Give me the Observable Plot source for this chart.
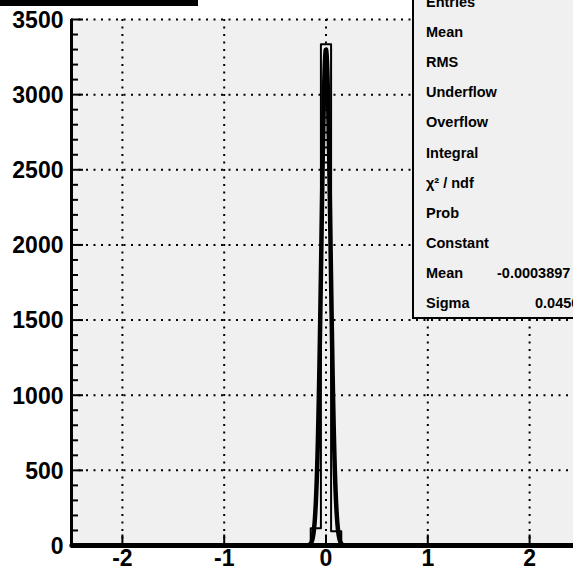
<!DOCTYPE html>
<html>
<head>
<meta charset="utf-8">
<script src="https://cdn.jsdelivr.net/npm/d3@7"></script>
<script src="https://cdn.jsdelivr.net/npm/@observablehq/plot@0.6"></script>
<style>
  html, body { margin: 0; padding: 0; background: white; overflow: hidden; }
  #chart { position: relative; width: 573px; height: 570px; overflow: hidden; }
</style>
</head>
<body>
<div id="chart"></div>
<script>
// ---- data ----
const xTicks = [-2, -1, 0, 1, 2];
const yTicks = [0, 500, 1000, 1500, 2000, 2500, 3000, 3500];
const yMinorStep = 100;
const histBinLow = [-0.25, -0.15, -0.05, 0.05, 0.15];
const histBinCount = [0, 115, 3335, 95, 0];
const histBinWidth = 0.1;
const xDomain = [-2.5, 2.5];
const yDomain = [0, 3500];
const fitConstant = 3300;
const fitMean = -0.0003897;
const fitSigma = 0.045;
const statLabels = ["Entries", "Mean", "RMS", "Underflow", "Overflow", "Integral", "χ² / ndf", "Prob", "Constant", "Mean", "Sigma"];
const statValues = ["", "", "", "", "", "", "", "", "", "-0.0003897 ± 0.00073", "0.04509 ± 0.0005"];

// ---- derived tables ----
const histLine = [{x: xDomain[0], y: 0}];
histBinLow.forEach((lo, i) => histLine.push({x: lo, y: histBinCount[i]}));
histLine.push({x: histBinLow[histBinLow.length - 1] + histBinWidth, y: 0});
histLine.push({x: xDomain[1], y: 0});

const fitLine = [];
for (let i = 0; i <= 600; i++) {
  const x = -0.3 + i * 0.001;
  fitLine.push({x, y: fitConstant * Math.exp(-0.5 * ((x - fitMean) / fitSigma) ** 2)});
}
const fitFull = [{x: xDomain[0], y: 0}, ...fitLine, {x: xDomain[1], y: 0}];

const yMinor = d3.range(yDomain[0], yDomain[1] + 1, yMinorStep);
const font = "Liberation Sans, Arial, Helvetica, sans-serif";
const tickLenMajor = 12 / 101.75;
const tickLenMinor = 7 / 101.75;

const plot = Plot.plot({
  width: 573,
  height: 570,
  marginLeft: 71,
  marginRight: 0,
  marginTop: 19,
  marginBottom: 25,
  style: {fontFamily: font, background: "white"},
  x: {domain: xDomain, range: [71, 580], axis: null},
  y: {domain: yDomain, range: [545, 19], axis: null},
  marks: [
    Plot.frame({fill: "#f0f0f0", stroke: null}),
    Plot.ruleX(xTicks, {x: d => d, stroke: "black", strokeWidth: 2, strokeDasharray: "2,5.5"}),
    Plot.ruleY(yTicks.slice(1), {y: d => d, stroke: "black", strokeWidth: 2, strokeDasharray: "2,5.5"}),
    Plot.line(histLine, {x: "x", y: "y", curve: "step-after", stroke: "black", strokeWidth: 2}),
    Plot.line(fitFull, {x: "x", y: "y", stroke: "black", strokeWidth: 4.5, strokeLinejoin: "round"}),
    Plot.ruleX([xDomain[0]], {x: d => d, stroke: "black", strokeWidth: 3}),
    Plot.ruleY([0], {y: d => d, stroke: "black", strokeWidth: 5}),
    Plot.ruleY(yMinor, {y: d => d, x1: xDomain[0], x2: d => xDomain[0] + (d % 500 === 0 ? tickLenMajor : tickLenMinor), stroke: "black", strokeWidth: 2}),
    Plot.ruleX(xTicks, {x: d => d, y1: 0, y2: 70, stroke: "black", strokeWidth: 2}),
    Plot.text(yTicks, {x: xDomain[0], y: d => d, text: d => String(d), textAnchor: "end", dx: -8, dy: 1, fontSize: 23, fontWeight: "bold", fill: "black"}),
    Plot.text(xTicks, {x: d => d, y: 0, text: d => String(d), textAnchor: "middle", lineAnchor: "middle", dy: 13, fontSize: 23, fontWeight: "bold", fill: "black"})
  ]
});

document.getElementById("chart").appendChild(plot);

// ---- annotation panes (title pave remnant and stats box) ----
const svg = d3.select(plot);
svg.append("rect").attr("x", 0).attr("y", -2).attr("width", 198).attr("height", 8).attr("fill", "black");

const g = svg.append("g").attr("text-anchor", "start");
g.append("rect").attr("x", 413).attr("y", -20).attr("width", 200).attr("height", 338)
  .attr("fill", "#f0f0f0").attr("stroke", "black").attr("stroke-width", 2);
statLabels.forEach((lab, i) => {
  const yy = 2 + i * 30.1;
  g.append("text").attr("x", 426).attr("y", yy).attr("dy", "0.35em")
    .attr("text-anchor", "start")
    .attr("font-family", font).attr("font-weight", "bold").attr("font-size", 14.5)
    .attr("fill", "black").text(lab);
  if (statValues[i]) {
    g.append("text").attr("x", i === 9 ? 497 : 535).attr("y", yy).attr("dy", "0.35em")
      .attr("text-anchor", "start")
      .attr("font-family", font).attr("font-weight", "bold").attr("font-size", 14.5)
      .attr("fill", "black").text(statValues[i]);
  }
});
</script>
</body>
</html>
